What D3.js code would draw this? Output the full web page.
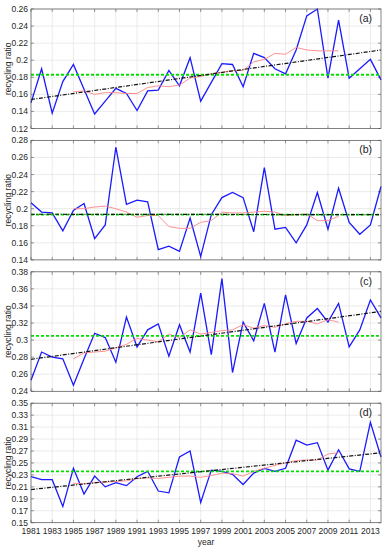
<!DOCTYPE html>
<html>
<head>
<meta charset="utf-8">
<script src="https://cdn.jsdelivr.net/npm/d3@7"></script>
<style>
    body { margin: 0; background: #fff; }
    svg { font-family: "Liberation Sans", Arial, sans-serif; }
</style>
</head>
<body>
<svg id="chart" width="386" height="550"></svg>
<script>
"use strict";

// years of the annual series and of the 9-year moving average
const years = d3.range(1981, 2015);
const maYears = d3.range(1985, 2011);
const yearTicks = [1981, 1983, 1985, 1987, 1989, 1991, 1993, 1995, 1997, 1999, 2001, 2003, 2005, 2007, 2009, 2011, 2013];

const panelNames = ["(a)", "(b)", "(c)", "(d)"];

// annual recycling ratio
const ratioA = [0.150, 0.190, 0.138, 0.175, 0.195, 0.166, 0.137, 0.152, 0.167, 0.161, 0.141, 0.164, 0.165, 0.188, 0.170, 0.203,
    0.152, 0.174, 0.196, 0.195, 0.169, 0.208, 0.203, 0.190, 0.184, 0.212, 0.252, 0.260, 0.179, 0.247, 0.179, 0.190, 0.201, 0.177];
const ratioB = [0.207, 0.196, 0.195, 0.174, 0.198, 0.206, 0.165, 0.181, 0.272, 0.205, 0.210, 0.208, 0.152, 0.156, 0.150, 0.189,
    0.144, 0.193, 0.213, 0.219, 0.213, 0.173, 0.248, 0.176, 0.178, 0.160, 0.181, 0.219, 0.176, 0.224, 0.184, 0.170, 0.181, 0.226];
const ratioC = [0.253, 0.286, 0.280, 0.278, 0.247, 0.278, 0.308, 0.303, 0.274, 0.327, 0.292, 0.312, 0.319, 0.281, 0.318, 0.286,
    0.355, 0.283, 0.372, 0.262, 0.321, 0.299, 0.343, 0.286, 0.353, 0.296, 0.326, 0.337, 0.321, 0.343, 0.292, 0.312, 0.347, 0.326];
const ratioD = [0.227, 0.222, 0.222, 0.177, 0.241, 0.198, 0.228, 0.210, 0.217, 0.212, 0.227, 0.236, 0.203, 0.200, 0.260, 0.270, 0.184,
    0.238, 0.236, 0.231, 0.214, 0.233, 0.241, 0.236, 0.241, 0.288, 0.280, 0.284, 0.238, 0.272, 0.240, 0.236, 0.318, 0.260];

// moving average (1985-2010)
const movA = [0.163, 0.164, 0.160, 0.162, 0.162, 0.161, 0.161, 0.168, 0.170, 0.169, 0.171, 0.179, 0.181, 0.184, 0.186, 0.188,
    0.188, 0.198, 0.201, 0.208, 0.207, 0.215, 0.212, 0.211, 0.211, 0.211];
const movB = [0.200, 0.200, 0.202, 0.203, 0.200, 0.196, 0.190, 0.192, 0.192, 0.179, 0.177, 0.177, 0.184, 0.186, 0.196, 0.195,
    0.195, 0.196, 0.197, 0.196, 0.192, 0.193, 0.194, 0.186, 0.186, 0.191];
const movC = [0.278, 0.285, 0.286, 0.287, 0.291, 0.295, 0.302, 0.300, 0.298, 0.307, 0.303, 0.312, 0.307, 0.309, 0.311, 0.312,
    0.318, 0.314, 0.317, 0.315, 0.319, 0.322, 0.322, 0.319, 0.324, 0.321];
const movD = [0.216, 0.215, 0.217, 0.218, 0.219, 0.220, 0.224, 0.225, 0.224, 0.226, 0.228, 0.228, 0.226, 0.229, 0.233, 0.232,
    0.228, 0.236, 0.241, 0.246, 0.250, 0.254, 0.255, 0.255, 0.265, 0.267];

// linear trend at 1981 and 2014, and long-term mean
const trendA = [0.154, 0.212];
const trendB = [0.1935, 0.1930];
const trendC = [0.2775, 0.3336];
const trendD = [0.2055, 0.267];
const means = [0.183, 0.193, 0.305, 0.236];

const yDomains = [[0.12, 0.26], [0.14, 0.28], [0.24, 0.38], [0.15, 0.35]];
const yTicksA = [0.12, 0.14, 0.16, 0.18, 0.20, 0.22, 0.24, 0.26];
const yTicksB = [0.14, 0.16, 0.18, 0.20, 0.22, 0.24, 0.26, 0.28];
const yTicksC = [0.24, 0.26, 0.28, 0.30, 0.32, 0.34, 0.36, 0.38];
const yTicksD = [0.15, 0.17, 0.19, 0.21, 0.23, 0.25, 0.27, 0.29, 0.31, 0.33, 0.35];

const ratios = [ratioA, ratioB, ratioC, ratioD];
const movs = [movA, movB, movC, movD];
const trends = [trendA, trendB, trendC, trendD];
const yTicks = [yTicksA, yTicksB, yTicksC, yTicksD];

const svg = d3.select("#chart");
const left = 31, right = 381, panelH = 119.5, panelStep = 131.4, firstTop = 9;
const x = d3.scaleLinear().domain([1981, 2014]).range([left, right]);
const fmt = v => String(+v.toFixed(2));

function drawPanel(i) {
    const top = firstTop + i * panelStep;
    const bottom = top + panelH;
    const y = d3.scaleLinear().domain(yDomains[i]).range([bottom, top]);
    const g = svg.append("g");

    // grid
    g.selectAll(".vg").data(yearTicks).enter().append("line")
        .attr("x1", d => x(d)).attr("x2", d => x(d)).attr("y1", top).attr("y2", bottom)
        .attr("stroke", "#e3e3e3").attr("stroke-width", 0.7);
    g.selectAll(".hg").data(yTicks[i]).enter().append("line")
        .attr("x1", left).attr("x2", right).attr("y1", d => y(d)).attr("y2", d => y(d))
        .attr("stroke", "#e3e3e3").attr("stroke-width", 0.7);

    // inward ticks
    for (let d of yearTicks) {
        g.append("line").attr("x1", x(d)).attr("x2", x(d)).attr("y1", bottom).attr("y2", bottom - 3).attr("stroke", "#555").attr("stroke-width", 0.6);
        g.append("line").attr("x1", x(d)).attr("x2", x(d)).attr("y1", top).attr("y2", top + 3).attr("stroke", "#555").attr("stroke-width", 0.6);
    }
    for (let d of yTicks[i]) {
        g.append("line").attr("x1", left).attr("x2", left + 3).attr("y1", y(d)).attr("y2", y(d)).attr("stroke", "#555").attr("stroke-width", 0.6);
        g.append("line").attr("x1", right).attr("x2", right - 3).attr("y1", y(d)).attr("y2", y(d)).attr("stroke", "#555").attr("stroke-width", 0.6);
    }

    // y tick labels
    g.selectAll(".yl").data(yTicks[i]).enter().append("text")
        .attr("x", left - 3).attr("y", d => y(d) + 3)
        .attr("text-anchor", "end").attr("font-size", "8.5px").attr("fill", "#262626")
        .text(fmt);

    // series
    const line = d3.line().x(d => x(d[0])).y(d => y(d[1]));
    g.append("path").datum(years.map((yr, k) => [yr, ratios[i][k]]))
        .attr("d", line).attr("fill", "none").attr("stroke", "#1a1aff").attr("stroke-width", 1.3);
    g.append("path").datum(maYears.map((yr, k) => [yr, movs[i][k]]))
        .attr("d", line).attr("fill", "none").attr("stroke", "#ff8585").attr("stroke-width", 0.9);
    g.append("path").datum([[1981, means[i]], [2014, means[i]]])
        .attr("d", line).attr("fill", "none").attr("stroke", "#00e000").attr("stroke-width", 1.8)
        .attr("stroke-dasharray", "3,2");
    g.append("path").datum([[1981, trends[i][0]], [2014, trends[i][1]]])
        .attr("d", line).attr("fill", "none").attr("stroke", "#111").attr("stroke-width", 1.2)
        .attr("stroke-dasharray", "4,1.5,1,1.5");

    // box
    g.append("rect").attr("x", left).attr("y", top).attr("width", right - left).attr("height", panelH)
        .attr("fill", "none").attr("stroke", "#555").attr("stroke-width", 0.7);

    g.append("text").attr("x", 372).attr("y", top + 13).attr("text-anchor", "end")
        .attr("font-size", "10.5px").attr("fill", "#222").text(panelNames[i]);

    g.append("text").attr("transform", `translate(11,${top + panelH / 2}) rotate(-90)`)
        .attr("text-anchor", "middle").attr("font-size", "8.5px").attr("fill", "#262626")
        .text("recycling ratio");

    if (i == 3) {
        g.selectAll(".xl").data(yearTicks).enter().append("text")
            .attr("x", d => x(d)).attr("y", bottom + 11)
            .attr("text-anchor", "middle").attr("font-size", "8.5px").attr("fill", "#262626")
            .text(d => d);
        g.append("text").attr("x", (left + right) / 2).attr("y", bottom + 22)
            .attr("text-anchor", "middle").attr("font-size", "8.5px").attr("fill", "#262626")
            .text("year");
    }
}

for (let i = 0; i < 4; i++) drawPanel(i);
</script>
</body>
</html>
